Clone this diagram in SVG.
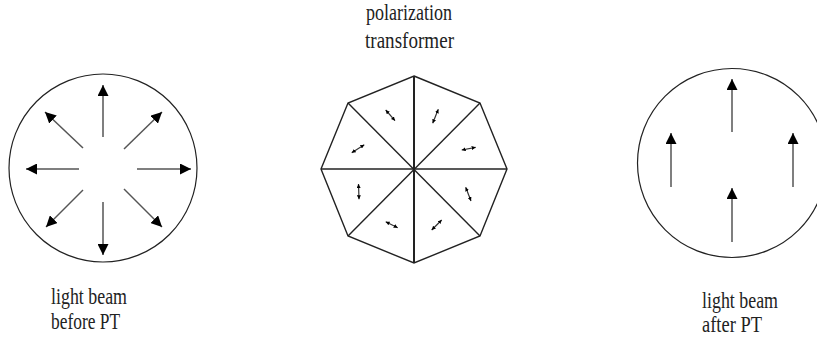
<svg xmlns="http://www.w3.org/2000/svg" width="817" height="341" viewBox="0 0 817 341">
<style>
  .ring { fill: none; stroke: #222; stroke-width: 1.2; }
  .oct { fill: none; stroke: #222; stroke-width: 1.4; }
  .big { stroke: #555; stroke-width: 1.5; marker-end: url(#head); }
  .small { stroke: #333; stroke-width: 1.2; marker-start: url(#tiny); marker-end: url(#tiny); }
  text { font-family: "Liberation Serif", "Times New Roman", serif; font-size: 23px; fill: #222; }
</style>
<defs>
  <marker id="head" viewBox="0 0 10 10" refX="10" refY="5" markerWidth="11" markerHeight="11" markerUnits="userSpaceOnUse" orient="auto">
    <path d="M0,0 L10,5 L0,10 z" fill="#000"/>
  </marker>
  <marker id="tiny" viewBox="0 0 10 10" refX="10" refY="5" markerWidth="4" markerHeight="4" markerUnits="userSpaceOnUse" orient="auto-start-reverse">
    <path d="M0,0 L10,5 L0,10 z" fill="#000"/>
  </marker>
</defs>

<g id="before">
  <circle class="ring" cx="103" cy="168" r="94"/>
  <line class="big" x1="103" y1="137" x2="103" y2="85"/>
  <line class="big" x1="103" y1="202" x2="103" y2="255"/>
  <line class="big" x1="79" y1="169" x2="26" y2="169"/>
  <line class="big" x1="137" y1="169" x2="191" y2="169"/>
  <line class="big" x1="83" y1="148" x2="45" y2="112"/>
  <line class="big" x1="124" y1="149" x2="162" y2="112"/>
  <line class="big" x1="83" y1="190" x2="46" y2="227"/>
  <line class="big" x1="124" y1="189" x2="162" y2="227"/>
  <text x="51" y="304" textLength="76" lengthAdjust="spacingAndGlyphs">light beam</text>
  <text x="51" y="329" textLength="69" lengthAdjust="spacingAndGlyphs">before PT</text>
</g>

<g id="transformer">
  <polygon class="oct" points="414,76 480,103 507,169 480,236 414,263 348,236 321,169 348,103"/>
  <line class="oct" x1="321" y1="169" x2="507" y2="169"/>
  <line class="oct" x1="348" y1="103" x2="480" y2="236"/>
  <line class="oct" x1="480" y1="103" x2="348" y2="236"/>
  <line x1="414" y1="76" x2="414" y2="263" stroke="#222" stroke-width="2"/>
  <line class="small" x1="385.7" y1="110" x2="395" y2="120.7"/>
  <line class="small" x1="438.3" y1="109.3" x2="432.7" y2="123.3"/>
  <line class="small" x1="461.7" y1="150" x2="475.7" y2="147.3"/>
  <line class="small" x1="465.7" y1="187.3" x2="471" y2="201"/>
  <line class="small" x1="431.7" y1="230" x2="441.7" y2="220"/>
  <line class="small" x1="385.7" y1="221.7" x2="397.7" y2="227.7"/>
  <line class="small" x1="358.5" y1="184" x2="359" y2="199.3"/>
  <line class="small" x1="351.7" y1="152.7" x2="364.3" y2="144.7"/>
  <text x="366" y="20" textLength="86" lengthAdjust="spacingAndGlyphs">polarization</text>
  <text x="365" y="48" textLength="89" lengthAdjust="spacingAndGlyphs">transformer</text>
</g>

<g id="after">
  <circle class="ring" cx="732" cy="163" r="94.5"/>
  <line class="big" x1="732" y1="132" x2="732" y2="79"/>
  <line class="big" x1="671" y1="187" x2="671" y2="133"/>
  <line class="big" x1="793" y1="187" x2="793" y2="133"/>
  <line class="big" x1="732" y1="242" x2="732" y2="188"/>
  <text x="702" y="308" textLength="76" lengthAdjust="spacingAndGlyphs">light beam</text>
  <text x="702" y="332" textLength="60" lengthAdjust="spacingAndGlyphs">after PT</text>
</g>
</svg>
